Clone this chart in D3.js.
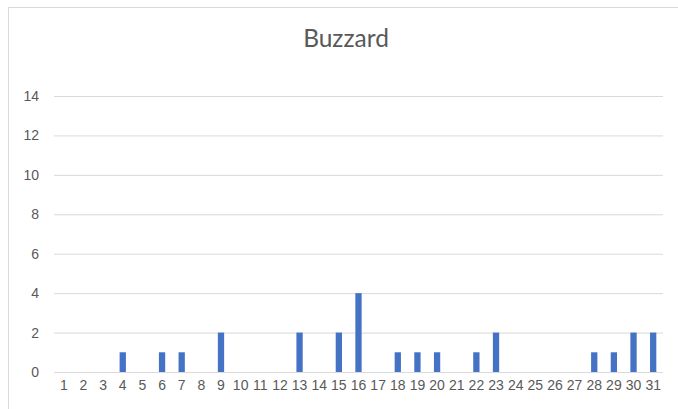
<!DOCTYPE html>
<html>
<head>
<meta charset="utf-8">
<script src="https://cdn.jsdelivr.net/npm/d3@7"></script>
<style>
  body { margin: 0; background: #fff; }
  svg { display: block; font-family: Lato, "Open Sans", sans-serif; }
</style>
</head>
<body>
<div id="chart"></div>
<script>
(function buzzard() {

    // Chart data
    const days = d3.range(1, 32).map(String);
    const counts = [0, 0, 0, 1, 0, 1, 1, 0, 2, 0, 0, 0, 2, 0, 2, 4, 0, 1, 1, 1, 0, 1, 2, 0, 0, 0, 0, 1, 1, 2, 2];
    const yTicks = [0, 2, 4, 6, 8, 10, 12, 14];

    const WIDTH = 678;
    const HEIGHT = 409;
    const margin = { top: 96, right: 15, bottom: 37, left: 54 };

    const svg = d3.select("#chart").append("svg")
        .attr("width", WIDTH)
        .attr("height", HEIGHT);

    // chart frame
    svg.append("rect")
        .attr("x", 8.5)
        .attr("y", 7.5)
        .attr("width", WIDTH)
        .attr("height", HEIGHT)
        .attr("fill", "#fff")
        .attr("stroke", "#d9d9d9");

    const x = d3.scaleBand()
        .domain(days)
        .range([margin.left, WIDTH - margin.right])
        .paddingInner(0.68)
        .paddingOuter(0.34);

    const y = d3.scaleLinear()
        .domain([0, 14])
        .range([HEIGHT - margin.bottom, margin.top]);

    // gridlines + y labels
    const yAxis = svg.append("g")
        .attr("transform", `translate(${margin.left},0)`)
        .call(d3.axisLeft(y).tickValues(yTicks)
            .tickSize(-(WIDTH - margin.left - margin.right))
            .tickPadding(15));
    yAxis.select(".domain").remove();
    yAxis.selectAll("line").attr("stroke", "#d9d9d9");
    yAxis.selectAll("text")
        .attr("fill", "#595959")
        .style("font-size", "14px");

    // bars
    svg.append("g").selectAll("rect")
        .data(counts)
        .join("rect")
        .attr("x", (d, i) => x(days[i]))
        .attr("y", d => y(d))
        .attr("width", x.bandwidth())
        .attr("height", d => y(0) - y(d))
        .attr("fill", "#4472c4");

    // x labels
    const xAxis = svg.append("g")
        .attr("transform", `translate(0,${y(0)})`)
        .call(d3.axisBottom(x).tickSize(0).tickPadding(8));
    xAxis.select(".domain").remove();
    xAxis.selectAll("text")
        .attr("fill", "#595959")
        .style("font-size", "14px");

    // title
    svg.append("text")
        .attr("x", 346)
        .attr("y", 47)
        .attr("text-anchor", "middle")
        .attr("fill", "#595959")
        .style("font-size", "24.5px")
        .text("Buzzard");

})();
</script>
</body>
</html>
